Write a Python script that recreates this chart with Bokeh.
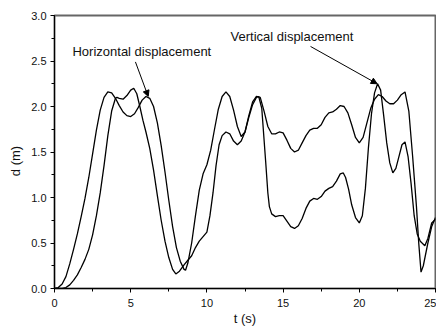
from bokeh.plotting import figure
from bokeh.models import (Range1d, SingleIntervalTicker, Label, Arrow, NormalHead,
                          PrintfTickFormatter)
from bokeh.embed import file_html
from bokeh.resources import INLINE

# Horizontal displacement (rises first)
t_h = [0.0, 0.25, 0.5, 0.75, 1.0, 1.25, 1.5, 1.75, 2.0, 2.25, 2.5, 2.75, 3.0, 3.25, 3.5, 3.75,
       4.0, 4.25, 4.5, 4.75, 5.0, 5.25, 5.5, 5.75, 6.0, 6.25, 6.5, 6.75, 7.0, 7.25, 7.5, 7.75,
       8.0, 8.25, 8.5, 8.6, 8.75, 9.0, 9.25, 9.5, 9.75, 10.0, 10.25, 10.5, 10.75, 11.0, 11.25,
       11.5, 11.75, 12.0, 12.25, 12.5, 12.75, 13.0, 13.25, 13.5, 13.75, 14.0, 14.25, 14.5, 14.75,
       15.0, 15.25, 15.5, 15.75, 16.0, 16.25, 16.5, 16.75, 17.0, 17.25, 17.5, 17.75, 18.0, 18.25,
       18.5, 18.75, 19.0, 19.25, 19.5, 19.75, 20.0, 20.25, 20.5, 20.75, 21.0, 21.25, 21.5, 21.75,
       22.0, 22.25, 22.5, 22.75, 23.0, 23.25, 23.5, 23.75, 23.9, 24.05, 24.2, 24.5, 24.75, 25.0]
d_h = [0.00, 0.01, 0.05, 0.13, 0.27, 0.43, 0.60, 0.79, 0.99, 1.22, 1.48, 1.74, 1.96, 2.10, 2.16, 2.15,
       2.09, 2.01, 1.94, 1.90, 1.89, 1.92, 1.99, 2.07, 2.11, 2.09, 2.00, 1.82, 1.57, 1.28, 0.97, 0.68,
       0.45, 0.30, 0.21, 0.20, 0.28, 0.50, 0.80, 1.08, 1.26, 1.36, 1.52, 1.75, 1.97, 2.11, 2.16,
       2.11, 1.96, 1.78, 1.67, 1.72, 1.90, 2.05, 2.11, 2.10, 1.95, 1.78, 1.70, 1.70, 1.72,
       1.71, 1.63, 1.54, 1.50, 1.52, 1.60, 1.68, 1.74, 1.76, 1.76, 1.80, 1.88, 1.93, 1.94,
       1.97, 2.01, 2.00, 1.93, 1.80, 1.66, 1.60, 1.66, 1.82, 1.98, 2.08, 2.13, 2.11, 2.06,
       2.03, 2.03, 2.07, 2.13, 2.16, 1.95, 1.45, 0.90, 0.50, 0.18, 0.25, 0.50, 0.68, 0.78]

# Vertical displacement (rises later)
t_v = [0.0, 0.5, 0.75, 1.0, 1.25, 1.5, 1.75, 2.0, 2.25, 2.5, 2.75, 3.0, 3.25, 3.5, 3.75, 4.0,
       4.1, 4.25, 4.5, 4.75, 5.0, 5.2, 5.4, 5.6, 5.8, 6.0, 6.25, 6.5, 6.75, 7.0, 7.25, 7.5, 7.75,
       7.96, 8.2, 8.5, 8.75, 9.0, 9.25, 9.5, 9.75, 10.0, 10.2, 10.4, 10.6, 10.8, 11.0, 11.25,
       11.5, 11.75, 12.0, 12.25, 12.5, 12.75, 13.0, 13.25, 13.4, 13.6, 13.85, 14.0, 14.1, 14.25,
       14.5, 14.75, 15.0, 15.25, 15.5, 15.75, 16.0, 16.25, 16.5, 16.75, 17.0, 17.25, 17.5, 17.75,
       18.0, 18.25, 18.5, 18.75, 18.95, 19.1, 19.3, 19.5, 19.75, 20.0, 20.2, 20.4, 20.6, 20.8,
       21.0, 21.2, 21.4, 21.6, 21.8, 22.0, 22.2, 22.4, 22.6, 22.8, 23.0, 23.2, 23.4, 23.6, 23.8,
       24.0, 24.3, 24.5, 24.75, 25.0]
d_v = [0.00, 0.00, 0.01, 0.04, 0.09, 0.15, 0.23, 0.32, 0.43, 0.59, 0.80, 1.05, 1.35, 1.68, 1.95, 2.09,
       2.10, 2.09, 2.08, 2.12, 2.18, 2.20, 2.14, 2.00, 1.85, 1.72, 1.54, 1.30, 1.02, 0.75, 0.52, 0.34, 0.21,
       0.16, 0.19, 0.26, 0.31, 0.36, 0.45, 0.52, 0.57, 0.62, 0.80, 1.05, 1.35, 1.58, 1.68, 1.72,
       1.70, 1.62, 1.58, 1.62, 1.72, 1.88, 2.02, 2.10, 2.11, 1.98, 1.41, 1.05, 0.90, 0.82,
       0.79, 0.80, 0.80, 0.74, 0.68, 0.66, 0.69, 0.77, 0.88, 0.96, 0.99, 0.98, 1.01, 1.07,
       1.10, 1.12, 1.18, 1.26, 1.27, 1.22, 1.09, 0.92, 0.78, 0.72, 0.80, 1.10, 1.55, 1.92,
       2.15, 2.25, 2.18, 1.90, 1.60, 1.38, 1.27, 1.32, 1.45, 1.58, 1.61, 1.45, 1.15, 0.80, 0.60,
       0.52, 0.47, 0.55, 0.72, 0.76]

# annotation anchors (data coordinates)
h_text = (1.18, 2.60)
h_arrow = (5.31, 2.49, 6.15, 2.11)
v_text = (11.55, 2.77)
v_arrow = (16.8, 2.66, 21.17, 2.25)

FONT = "Liberation Sans"

p = figure(width=436, height=328, output_backend="svg", toolbar_location=None,
           x_range=Range1d(0, 25), y_range=Range1d(0, 3.0),
           min_border_left=54, min_border_right=1, min_border_top=15, min_border_bottom=39)
p.xgrid.visible = False
p.ygrid.visible = False
p.background_fill_color = "white"
p.border_fill_color = "white"
p.outline_line_color = "#666666"
p.outline_line_width = 2

p.line(t_h, d_h, line_color="black", line_width=1.3)
p.line(t_v, d_v, line_color="black", line_width=1.3)

p.xaxis.ticker = SingleIntervalTicker(interval=5, num_minor_ticks=2)
p.yaxis.ticker = SingleIntervalTicker(interval=0.5, num_minor_ticks=2)
p.yaxis.formatter = PrintfTickFormatter(format="%.1f")

for ax in (p.xaxis[0], p.yaxis[0]):
    ax.axis_line_color = "black"
    ax.axis_line_width = 1
    ax.major_tick_line_color = "black"
    ax.minor_tick_line_color = "black"
    ax.major_tick_in = 0
    ax.major_tick_out = 4
    ax.minor_tick_in = 0
    ax.minor_tick_out = 3
    ax.major_label_text_font = FONT
    ax.major_label_text_font_size = "11px"
    ax.major_label_text_color = "#111111"
    ax.axis_label_text_font = FONT
    ax.axis_label_text_font_size = "13px"
    ax.axis_label_text_font_style = "normal"
    ax.axis_label_text_color = "#111111"

p.xaxis.axis_label = "t (s)"
p.yaxis.axis_label = "d (m)\u00a0\u00a0\u00a0\u00a0\u00a0"
p.xaxis.major_label_standoff = 6
p.yaxis.major_label_standoff = 4
p.xaxis.axis_label_standoff = 1
p.yaxis.axis_label_standoff = 5

p.add_layout(Label(x=h_text[0], y=h_text[1], text="Horizontal displacement",
                   text_font=FONT, text_font_size="13px", text_baseline="middle",
                   text_color="#111111"))
p.add_layout(Label(x=v_text[0], y=v_text[1], text="Vertical displacement",
                   text_font=FONT, text_font_size="13px", text_baseline="middle",
                   text_color="#111111"))
for (x0, y0, x1, y1) in (h_arrow, v_arrow):
    p.add_layout(Arrow(end=NormalHead(size=6, fill_color="black", line_color="black"),
                       x_start=x0, y_start=y0, x_end=x1, y_end=y1,
                       line_color="black", line_width=1))

open("out.html", "w").write(file_html(p, INLINE))
